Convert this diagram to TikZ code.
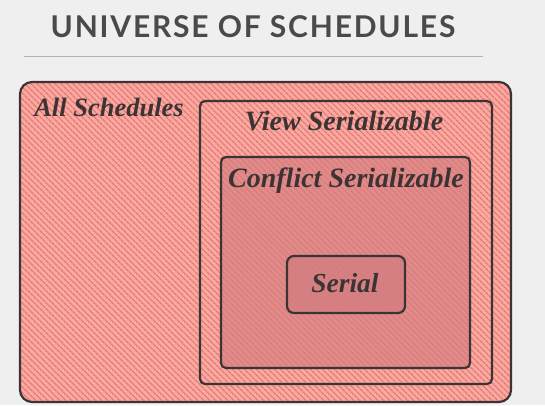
\documentclass[tikz,border=0pt]{standalone}
\usepackage{fontspec}
\newfontfamily\titlefont[LetterSpace=6]{Lato}
\newfontfamily\labelfont{Liberation Serif}
\usetikzlibrary{patterns.meta}
\definecolor{bggray}{HTML}{EFEFEF}
\definecolor{rulegray}{HTML}{B4B4B4}
\definecolor{titlegray}{HTML}{4A4A4A}
\definecolor{edgegray}{HTML}{3C3434}
\definecolor{salmon}{HTML}{FBA8A0}
\definecolor{salmondark}{HTML}{DE8C8B}
\definecolor{salmondeep}{HTML}{D28286}
\definecolor{stripe}{HTML}{E07874}
\tikzset{
  setbox/.style={draw=edgegray, line width=2.2pt, preaction={fill=#1},
    preaction={pattern={Lines[angle=-45,distance=4pt,line width=1.3pt]}, pattern color=stripe}},
  setlabel/.style={text=edgegray, font=\labelfont\fontsize{#1}{#1}\selectfont\bfseries\itshape, inner sep=0pt},
  setlabel/.default=26.5
}
\begin{document}
\begin{tikzpicture}[x=1pt,y=-1pt]
\fill[bggray] (0,0) rectangle (545,405);
\useasboundingbox (0,0) rectangle (545,405);
% title and rule
\node[text=titlegray, font=\titlefont\fontsize{30}{30}\selectfont\bfseries] (title) at (253,27) {UNIVERSE OF SCHEDULES};
\draw[rulegray, line width=1pt] (24,56) -- (483,56);
% nested sets
\draw[setbox=salmon, rounded corners=12pt] (20,82) rectangle (511,402);
\draw[setbox=salmon, rounded corners=5pt] (200,101) rectangle (492,384);
\draw[setbox=salmondark, rounded corners=5pt] (221,157) rectangle (470,368);
\draw[setbox=salmondeep, rounded corners=7pt] (287,256) rectangle (405,313);
% labels
\node[setlabel] (all) at (109,107) {All Schedules};
\node[setlabel=28] (view) at (344,121) {View Serializable};
\node[setlabel=28] (conflict) at (346,181) {Conflict Serializable};
\node[setlabel=27.5] (serial) at (345,283) {Serial};
\end{tikzpicture}
\end{document}
